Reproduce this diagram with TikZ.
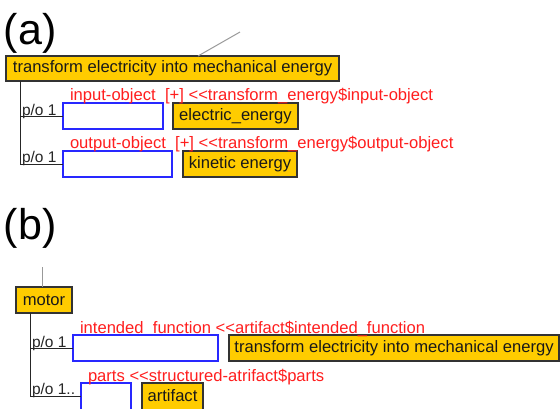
\documentclass[tikz,border=0pt]{standalone}
\usepackage{fontspec}
\setmainfont{Liberation Sans}[Ligatures=TeXOff]
\begin{document}
\begin{tikzpicture}[x=1pt,y=-1pt,
  every node/.style={inner sep=0pt, outer sep=0pt},
  conceptbox/.style={draw=black!80, line width=1.2pt, fill=gold,
    font=\fontsize{16.6}{18}\selectfont, text=black!90},
  slotbox/.style={draw=slotblue, line width=1.2pt, fill=white},
  rolelabel/.style={anchor=base west, text=rolered,
    font=\fontsize{16.6}{18}\selectfont},
  partlabel/.style={anchor=base west, text=black!85,
    font=\fontsize{15.5}{18}\selectfont},
  panellabel/.style={anchor=base west, font=\fontsize{43}{48}\selectfont},
  tree/.style={draw=black!85, line width=1pt},
  stub/.style={draw=black!40, line width=1pt}]
\definecolor{gold}{RGB}{255,204,0}
\definecolor{slotblue}{RGB}{40,40,255}
\definecolor{rolered}{RGB}{255,30,30}

\useasboundingbox (0,0) rectangle (560,408);
\clip (0,0) rectangle (560,408);
\fill[white] (0,0) rectangle (560,408);

% ---------- panel (a) ----------
\node[panellabel] (lab-a) at (4,44) {(a)};

\node[conceptbox, minimum width=333, minimum height=25] (transform) at (172.5,68.5)
  {transform electricity into mechanical energy};
\coordinate (transform-up) at (240,32);
\draw[stub] (transform.north -| 198,0) -- (transform-up);

\node[slotbox, minimum width=100, minimum height=26] (in-slot) at (113,116) {};
\node[conceptbox, minimum width=125, minimum height=26] (elec) at (235.5,116) {electric\_energy};
\node[rolelabel] (in-role) at (70,100) {input-object\ \ [+] <<transform\_energy\$input-object};
\node[partlabel] (in-po) at (22,115.5) {p/o 1};

\node[slotbox, minimum width=109, minimum height=26] (out-slot) at (117.5,164) {};
\node[conceptbox, minimum width=114, minimum height=26] (kinetic) at (240,164) {kinetic energy};
\node[rolelabel] (out-role) at (70,148) {output-object\ \ [+] <<transform\_energy\$output-object};
\node[partlabel] (out-po) at (22,162.5) {p/o 1};

\coordinate (a-trunk) at (transform.south -| 20,0);
\draw[tree] (a-trunk) |- (in-slot.west);
\draw[tree] (a-trunk) |- (out-slot.west);

% ---------- panel (b) ----------
\node[panellabel] (lab-b) at (4,239) {(b)};

\node[conceptbox, minimum width=56, minimum height=26] (motor) at (44,300) {motor};
\coordinate (motor-up) at (42,267);
\draw[stub] (motor-up) -- (motor.north -| motor-up);

\node[slotbox, minimum width=145, minimum height=26] (func-slot) at (145.5,348) {};
\node[conceptbox, minimum width=330, minimum height=26] (func) at (394,348)
  {transform electricity into mechanical energy};
\node[rolelabel] (func-role) at (80,333) {intended\ \ function <<artifact\$intended\_function};
\node[partlabel] (func-po) at (32,347) {p/o 1};

% the last row runs past the lower edge
\node[slotbox, minimum width=50, minimum height=29] (parts-slot) at (106,397.5) {};
\node[conceptbox, minimum width=61, minimum height=29, text depth=0pt] (artifact) at (172.5,397.5) {};
\node[font=\fontsize{16.6}{18}\selectfont, text=black!90, anchor=base] (artifact-name) at (172.5,401) {artifact};
\node[rolelabel] (parts-role) at (88,381) {parts <<structured-atrifact\$parts};
\node[partlabel] (parts-po) at (32,394.5) {p/o 1..};

\coordinate (b-trunk) at (motor.south -| 30,0);
\draw[tree] (b-trunk) |- (func-slot.west);
\draw[tree] (b-trunk) |- ([yshift=1.5pt]parts-slot.west);
\end{tikzpicture}
\end{document}
